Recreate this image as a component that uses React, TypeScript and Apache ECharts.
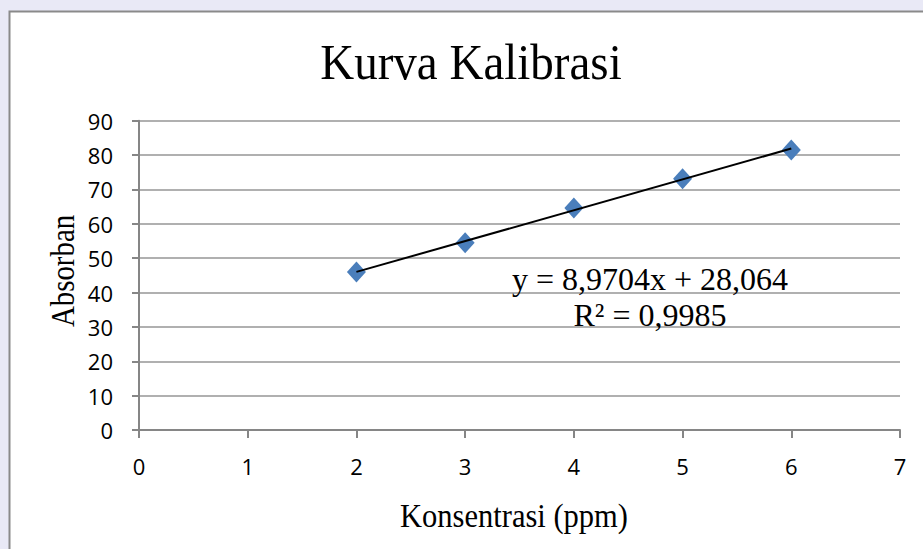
import React, { useEffect, useRef } from "react";
import * as echarts from "echarts";

const titleText = "Kurva Kalibrasi";
const xAxisTitle = "Konsentrasi (ppm)";
const yAxisTitle = "Absorban";
const konsentrasi = [2, 3, 4, 5, 6];
const absorban = [46, 54.5, 64.6, 73.1, 81.5];
const slope = 8.9704;
const intercept = 28.064;
const trendX = [2, 6];
const equationText = "y = 8,9704x + 28,064";
const r2Text = "R² = 0,9985";

const serif = "'Liberation Serif', 'Times New Roman', serif";
const sans = "'Open Sans', 'Noto Sans', sans-serif";

export default function App() {
  const ref = useRef<HTMLDivElement>(null);
  useEffect(() => {
    if (!ref.current) return;
    const chart = echarts.init(ref.current, undefined, { renderer: "svg" });
    const points = konsentrasi.map((x, i) => [x, absorban[i]]);
    const trend = trendX.map((x) => [x, slope * x + intercept]);
    chart.setOption({
      animation: false,
      backgroundColor: "#e9e9f6",
      graphic: [
        {
          type: "rect",
          z: -10,
          shape: { x: 9.5, y: 11.5, width: 1000, height: 700 },
          style: { fill: "#ffffff", stroke: "#8a8a8a", lineWidth: 2 },
          silent: true,
        },
        {
          type: "text",
          x: 471,
          y: 62,
          scaleX: 0.94,
          style: {
            text: titleText,
            font: `50px ${serif}`,
            fill: "#000",
            align: "center",
            verticalAlign: "middle",
          },
        },
        {
          type: "text",
          x: 514,
          y: 516,
          scaleX: 0.925,
          style: {
            text: xAxisTitle,
            font: `33px ${serif}`,
            fill: "#000",
            align: "center",
            verticalAlign: "middle",
          },
        },
        {
          type: "text",
          x: 63,
          y: 271,
          rotation: Math.PI / 2,
          scaleX: 0.875,
          style: {
            text: yAxisTitle,
            font: `33px ${serif}`,
            fill: "#000",
            align: "center",
            verticalAlign: "middle",
          },
        },
        {
          type: "text",
          x: 650,
          y: 279,
          z: 100,
          style: {
            text: equationText,
            font: `32px ${serif}`,
            fill: "#000",
            align: "center",
            verticalAlign: "middle",
          },
        },
        {
          type: "text",
          x: 650,
          y: 315,
          z: 100,
          style: {
            text: r2Text,
            font: `32px ${serif}`,
            fill: "#000",
            align: "center",
            verticalAlign: "middle",
          },
        },
      ],
      grid: { left: 139, right: 23, top: 120.7, bottom: 119, containLabel: false },
      xAxis: {
        type: "value",
        min: 0,
        max: 7,
        interval: 1,
        splitLine: { show: false },
        axisLine: { show: true, lineStyle: { color: "#868686", width: 2 } },
        axisTick: { show: true, length: 8, lineStyle: { color: "#868686", width: 2 } },
        axisLabel: { fontFamily: sans, fontSize: 22, color: "#000", margin: 25 },
      },
      yAxis: {
        type: "value",
        min: 0,
        max: 90,
        interval: 10,
        splitLine: { show: true, lineStyle: { color: "#969696", width: 1.5 } },
        axisLine: { show: true, lineStyle: { color: "#868686", width: 2 } },
        axisTick: { show: true, length: 7, lineStyle: { color: "#868686", width: 2 } },
        axisLabel: { fontFamily: sans, fontSize: 22, color: "#000", margin: 26 },
      },
      series: [
        {
          type: "scatter",
          data: points,
          symbol: "diamond",
          symbolSize: [19, 21],
          itemStyle: { color: "#4a7ebb", opacity: 1 },
          z: 2,
        },
        {
          type: "line",
          data: trend,
          symbol: "none",
          lineStyle: { color: "#000", width: 2 },
          z: 3,
        },
      ],
    });
    return () => chart.dispose();
  }, []);
  return (
    <div
      ref={ref}
      style={{ position: "fixed", left: 0, top: 0, width: 923, height: 549 }}
    />
  );
}
